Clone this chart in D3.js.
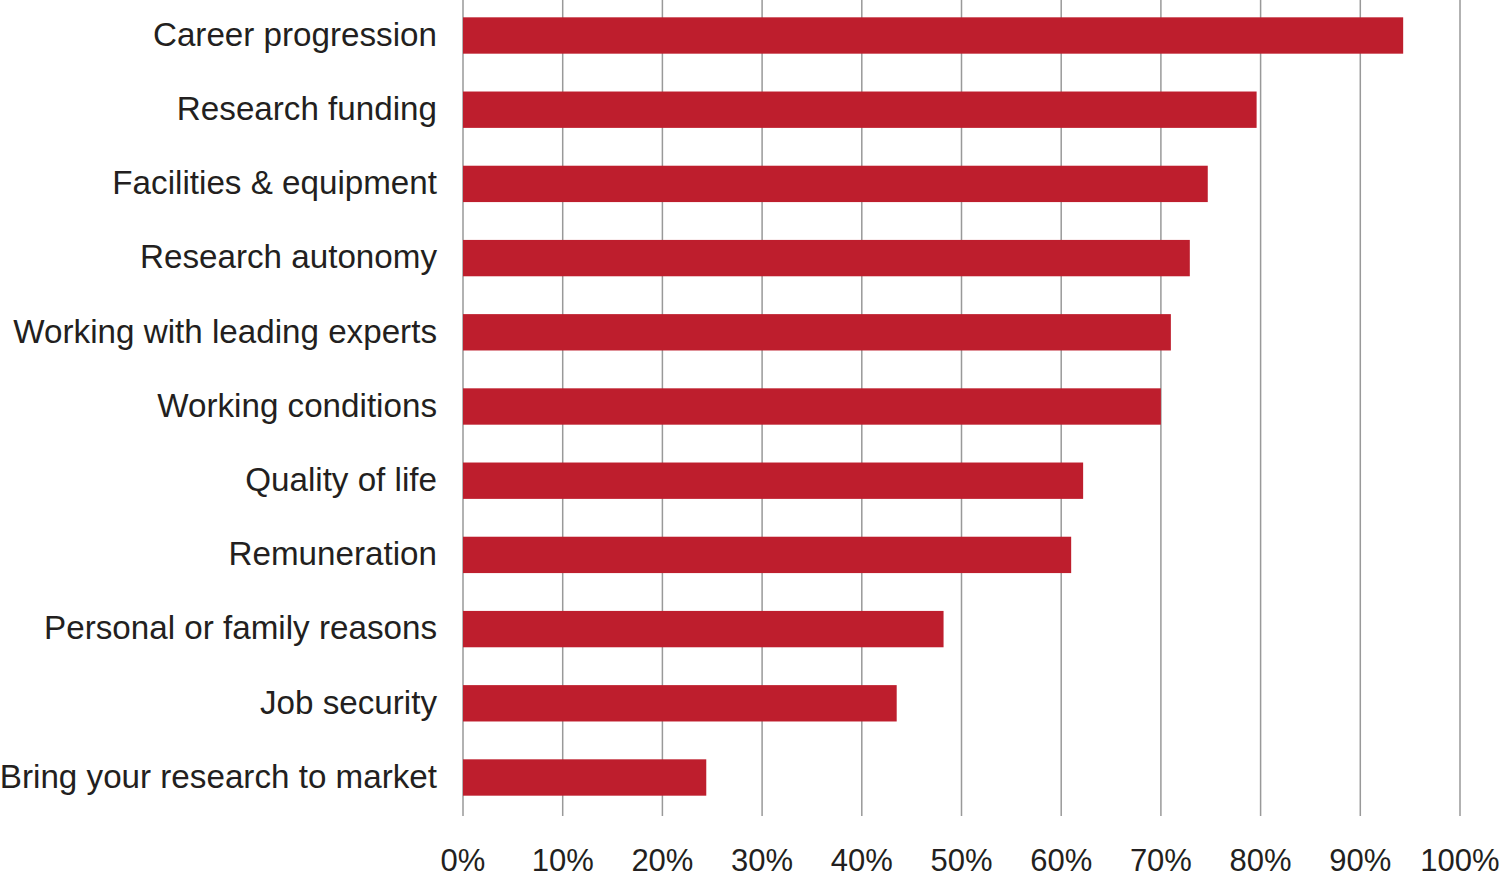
<!DOCTYPE html>
<html>
<head>
<meta charset="utf-8">
<script src="https://cdn.jsdelivr.net/npm/d3@7"></script>
<style>
  html, body { margin: 0; padding: 0; background: #fff; }
  svg { display: block; }
  text { font-family: "Liberation Sans", Arial, Helvetica, sans-serif; fill: #231f20; }
</style>
</head>
<body>
<svg id="chart" width="1504" height="879"></svg>
<script>
const categories = [
  "Career progression",
  "Research funding",
  "Facilities & equipment",
  "Research autonomy",
  "Working with leading experts",
  "Working conditions",
  "Quality of life",
  "Remuneration",
  "Personal or family reasons",
  "Job security",
  "Bring your research to market"
];
const values = [94.3, 79.6, 74.7, 72.9, 71.0, 70.0, 62.2, 61.0, 48.2, 43.5, 24.4];
const tickValues = [0, 10, 20, 30, 40, 50, 60, 70, 80, 90, 100];
const tickLabels = ["0%", "10%", "20%", "30%", "40%", "50%", "60%", "70%", "80%", "90%", "100%"];

const svg = d3.select("#chart");
const x = d3.scaleLinear().domain([0, 100]).range([463, 1460]);
const y = d3.scaleBand().domain(categories).range([-1.6, 814.6]).paddingInner(0.51).paddingOuter(0.255);

// gridlines
svg.append("g").selectAll("line").data(tickValues).join("line")
  .attr("x1", d => x(d)).attr("x2", d => x(d))
  .attr("y1", 0).attr("y2", 816)
  .attr("stroke", "#999999").attr("stroke-width", 1.5);

// bars
const data = categories.map((c, i) => ({ c, v: values[i] }));
svg.append("g").selectAll("rect").data(data).join("rect")
  .attr("x", x(0))
  .attr("y", d => y(d.c))
  .attr("width", d => x(d.v) - x(0))
  .attr("height", y.bandwidth())
  .attr("fill", "#be1e2d");

// category labels
svg.append("g").selectAll("text").data(categories).join("text")
  .attr("x", 437)
  .attr("y", d => y(d) + y.bandwidth() / 2)
  .attr("dy", "0.31em")
  .attr("text-anchor", "end")
  .attr("font-size", 33.2)
  .text(d => d);

// tick labels
svg.append("g").selectAll("text").data(tickValues).join("text")
  .attr("x", d => x(d))
  .attr("y", 871)
  .attr("text-anchor", "middle")
  .attr("font-size", 31)
  .text((d, i) => tickLabels[i]);
</script>
</body>
</html>
